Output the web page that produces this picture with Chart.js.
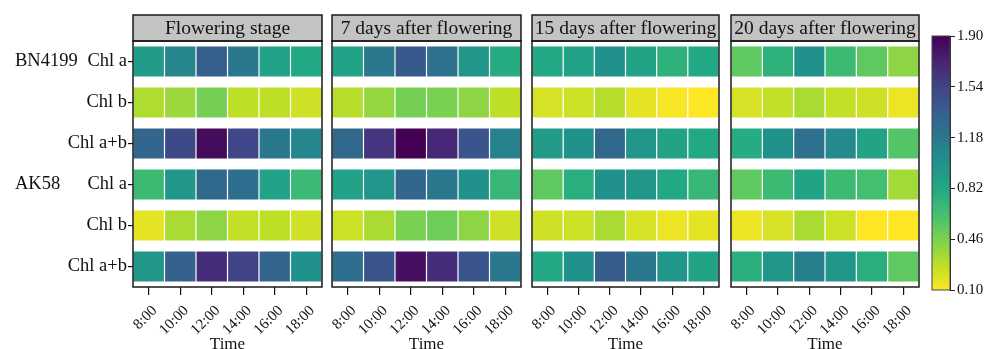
<!DOCTYPE html>
<html>
<head>
<meta charset="utf-8">
<script src="https://cdn.jsdelivr.net/npm/chart.js@4"></script>
<style>
  html, body { margin: 0; padding: 0; background: #fff; }
  #wrap { position: relative; width: 992px; height: 349px; }
  #wrap canvas { position: absolute; left: 0; top: 0; }
</style>
</head>
<body>
<div id="wrap">
  <canvas id="p0" width="992" height="349"></canvas>
  <canvas id="p1" width="992" height="349"></canvas>
  <canvas id="p2" width="992" height="349"></canvas>
  <canvas id="p3" width="992" height="349"></canvas>
  <canvas id="cb" width="992" height="349"></canvas>
</div>
<script>
// Data
const times = ['8:00', '10:00', '12:00', '14:00', '16:00', '18:00'];
const traits = ['Chl a', 'Chl b', 'Chl a+b', 'Chl a', 'Chl b', 'Chl a+b'];
const cultivars = ['BN4199', 'AK58'];
const stages = ['Flowering stage', '7 days after flowering', '15 days after flowering', '20 days after flowering'];
const colorTicks = [0.10, 0.46, 0.82, 1.18, 1.54, 1.90];

// rows: BN4199 Chl a, Chl b, Chl a+b, AK58 Chl a, Chl b, Chl a+b; columns follow times
const flowering = [
  [0.91, 1.09, 1.36, 1.18, 0.87, 0.82],
  [0.32, 0.37, 0.48, 0.28, 0.28, 0.23],
  [1.31, 1.50, 1.85, 1.52, 1.18, 1.07],
  [0.68, 0.95, 1.29, 1.25, 0.87, 0.69],
  [0.17, 0.33, 0.41, 0.26, 0.28, 0.23],
  [0.95, 1.34, 1.67, 1.54, 1.32, 1.00]
];
const days7 = [
  [0.87, 1.18, 1.40, 1.23, 0.95, 0.80],
  [0.30, 0.39, 0.48, 0.46, 0.41, 0.28],
  [1.29, 1.63, 1.90, 1.70, 1.43, 1.11],
  [0.87, 0.96, 1.31, 1.18, 1.00, 0.71],
  [0.24, 0.33, 0.46, 0.50, 0.41, 0.23],
  [1.25, 1.43, 1.83, 1.67, 1.43, 1.18]
];
const days15 = [
  [0.82, 0.87, 1.00, 0.86, 0.75, 0.82],
  [0.21, 0.24, 0.30, 0.17, 0.12, 0.10],
  [0.91, 1.00, 1.29, 0.95, 0.87, 0.82],
  [0.55, 0.77, 1.00, 0.95, 0.82, 0.71],
  [0.23, 0.24, 0.33, 0.21, 0.15, 0.17],
  [0.82, 1.00, 1.38, 1.18, 0.96, 0.86]
];
const days20 = [
  [0.55, 0.75, 1.00, 0.68, 0.55, 0.41],
  [0.21, 0.26, 0.33, 0.26, 0.23, 0.15],
  [0.80, 1.00, 1.23, 1.05, 0.86, 0.59],
  [0.55, 0.68, 0.86, 0.68, 0.64, 0.35],
  [0.15, 0.21, 0.33, 0.24, 0.10, 0.10],
  [0.77, 0.95, 1.13, 0.95, 0.77, 0.55]
];
const panels = [flowering, days7, days15, days20];

// panel frame positions on the page
const panelLeft = [133, 332, 532, 731];
const panelRight = [322, 521, 719, 919];
const headerTop = 15;

Chart.defaults.font.family = '"Times New Roman", "Liberation Serif", serif';
Chart.defaults.color = '#111';

// viridis, purple = high, yellow = low
const viridis = ['#440154', '#482475', '#414487', '#355f8d', '#2a788e', '#21918c',
  '#22a884', '#44bf70', '#7ad151', '#bddf26', '#fde725'];

function hexToRgb(h) {
  return [1, 3, 5].map(i => parseInt(h.slice(i, i + 2), 16));
}

function cmap(t) {
  t = Math.max(0, Math.min(1, t));
  const p = t * (viridis.length - 1);
  const i = Math.min(Math.floor(p), viridis.length - 2);
  const f = p - i;
  const a = hexToRgb(viridis[i]), b = hexToRgb(viridis[i + 1]);
  const c = a.map((v, k) => Math.round(v + (b[k] - v) * f));
  return `rgb(${c[0]},${c[1]},${c[2]})`;
}

function colorFor(v) {
  const lo = colorTicks[0], hi = colorTicks[colorTicks.length - 1];
  return cmap((hi - v) / (hi - lo));
}

// header box, frame and cultivar names
const framePlugin = {
  id: 'frame',
  afterDraw(chart, args, opts) {
    const { ctx, chartArea: a } = chart;
    ctx.save();
    ctx.fillStyle = '#c3c3c3';
    ctx.fillRect(a.left, headerTop, a.right - a.left, a.top - headerTop);
    ctx.strokeStyle = '#1a1a1a';
    ctx.lineWidth = 1.5;
    ctx.strokeRect(a.left, headerTop, a.right - a.left, a.top - headerTop);
    ctx.strokeRect(a.left, a.top, a.right - a.left, a.bottom - a.top);
    ctx.fillStyle = '#111';
    ctx.font = '19.5px "Times New Roman", "Liberation Serif", serif';
    ctx.textAlign = 'center';
    ctx.textBaseline = 'middle';
    ctx.fillText(opts.title, (a.left + a.right) / 2, (headerTop + a.top) / 2 + 1);
    if (opts.groups) {
      const y = chart.scales.y;
      const per = traits.length / cultivars.length;
      ctx.font = '18.5px "Times New Roman", "Liberation Serif", serif';
      ctx.textAlign = 'left';
      cultivars.forEach((c, k) => ctx.fillText(c, 15, y.getPixelForTick(k * per)));
    }
    ctx.restore();
  }
};

function heatmap(k) {
  const first = k === 0;
  const values = panels[k];
  new Chart(document.getElementById('p' + k), {
    type: 'bar',
    data: {
      labels: traits,
      datasets: times.map((t, j) => ({
        label: t,
        data: traits.map(() => 1),
        backgroundColor: values.map(row => colorFor(row[j])),
        borderColor: 'rgba(255,255,255,0.45)',
        borderWidth: 0.6,
        borderSkipped: false,
        categoryPercentage: 1,
        barPercentage: 0.755
      }))
    },
    plugins: [framePlugin],
    options: {
      indexAxis: 'y',
      responsive: false,
      animation: false,
      layout: { padding: { left: first ? 0 : panelLeft[k], right: 992 - panelRight[k], top: 41, bottom: 0 } },
      plugins: {
        legend: { display: false },
        tooltip: { enabled: false },
        frame: { title: stages[k], groups: first }
      },
      scales: {
        x: {
          type: 'linear',
          stacked: true,
          min: 0,
          max: times.length,
          afterBuildTicks: s => { s.ticks = times.map((t, j) => ({ value: j + 0.5 })); },
          afterFit: s => { s.height = 62; },
          ticks: {
            autoSkip: false,
            minRotation: 45,
            maxRotation: 45,
            padding: 7,
            labelOffset: 6,
            font: { size: 15 },
            callback: (v, i) => times[i]
          },
          grid: { drawOnChartArea: false, tickLength: 8, color: '#111', lineWidth: 1.2 },
          border: { display: false },
          title: { display: true, text: 'Time', font: { size: 17, lineHeight: 1 }, padding: { top: 0, bottom: -4 } }
        },
        y: {
          stacked: true,
          display: first,
          afterFit: s => { s.width = first ? panelLeft[0] : 0; },
          ticks: { font: { size: 18.5 }, padding: 1 },
          grid: { offset: false, drawOnChartArea: false, tickLength: 5, color: '#111', lineWidth: 1.2 },
          border: { display: false }
        }
      }
    }
  });
}

panels.forEach((p, k) => heatmap(k));

// colour bar
const lo = colorTicks[0], hi = colorTicks[colorTicks.length - 1];
new Chart(document.getElementById('cb'), {
  type: 'bar',
  data: {
    labels: [''],
    datasets: [{
      data: [[lo, hi]],
      backgroundColor: ctx => {
        const a = ctx.chart.chartArea;
        if (!a) return '#888';
        const g = ctx.chart.ctx.createLinearGradient(0, a.bottom, 0, a.top);
        viridis.forEach((c, i) => g.addColorStop(1 - i / (viridis.length - 1), c));
        return g;
      },
      borderWidth: 0,
      categoryPercentage: 1,
      barPercentage: 1
    }]
  },
  plugins: [{
    id: 'cbOutline',
    afterDraw(chart) {
      const { ctx, chartArea: a } = chart;
      ctx.save();
      ctx.strokeStyle = '#444';
      ctx.lineWidth = 1;
      ctx.strokeRect(a.left, a.top, a.right - a.left, a.bottom - a.top);
      ctx.restore();
    }
  }],
  options: {
    responsive: false,
    animation: false,
    layout: { padding: { left: 932, right: 0, top: 36, bottom: 59 } },
    plugins: { legend: { display: false }, tooltip: { enabled: false } },
    scales: {
      x: { display: false },
      y: {
        position: 'right',
        min: lo,
        max: hi,
        afterBuildTicks: s => { s.ticks = colorTicks.map(v => ({ value: v })); },
        afterFit: s => { s.width = 42; },
        ticks: { font: { size: 15 }, padding: 2, callback: v => v.toFixed(2) },
        grid: { drawOnChartArea: false, tickLength: 5, color: '#222' },
        border: { display: true, color: '#222' }
      }
    }
  }
});
</script>
</body>
</html>
